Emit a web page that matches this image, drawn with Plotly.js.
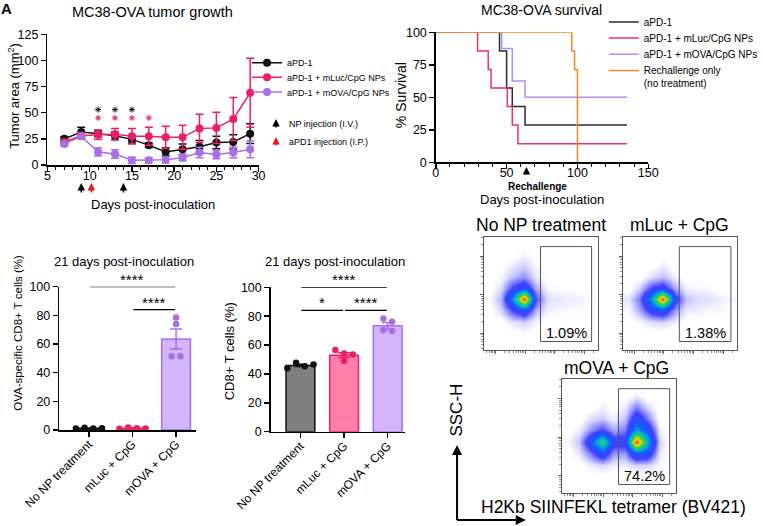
<!DOCTYPE html>
<html>
<head>
<meta charset="utf-8">
<script src="https://cdn.plot.ly/plotly-3.0.1.min.js"></script>
<style>
  html, body { margin: 0; padding: 0; background: #fff; }
  #plot { width: 763px; height: 526px; }
</style>
</head>
<body>
<div id="plot"></div>
<script>
// tumor growth, mean and SEM
let days = [7, 9, 11, 13, 15, 17, 19, 21, 23, 25, 27, 29];
let pd1Area = [25, 31.5, 30, 28, 24.5, 19, 12.5, 15, 17.5, 21.5, 22, 30];
let pd1Sem = [2, 4.5, 3, 3.5, 3.5, 2, 4, 5, 6, 6, 7, 9.5];
let mlucArea = [22, 28, 29, 29.5, 27.5, 27.5, 26.5, 26.5, 35, 35.5, 44, 69];
let mlucSem = [2, 3, 4.5, 5.5, 7.5, 8.5, 10.5, 11.5, 13.5, 15, 20.5, 33];
let movaArea = [20, 27.5, 12.5, 10.5, 4.5, 4.5, 5, 7, 12, 10, 12, 15];
let movaSem = [2, 2, 4, 4, 3, 2.5, 3, 3, 5, 4, 5, 8];
let starDaysPd1 = [11, 13, 15];
let starLevelPd1 = [53, 53, 53];
let starDaysMluc = [11, 13, 15, 17];
let starLevelMluc = [45, 45, 45, 45];
let npInjectionDays = [9, 14];
let pd1InjectionDays = [10.2];

// survival (Kaplan-Meier steps)
let survPd1Days = [0, 45, 50, 54, 63, 135];
let survPd1 = [100, 85.7, 57.1, 42.9, 28.6, 28.6];
let survMlucDays = [0, 29.5, 37, 39, 50.5, 54, 58, 135];
let survMluc = [100, 85.7, 71.4, 57.1, 42.9, 28.6, 14.3, 14.3];
let survMovaDays = [0, 46.5, 54, 63, 135];
let survMova = [100, 87.5, 62.5, 50, 50];
let survRechDays = [0, 96, 98, 100];
let survRech = [100, 85.7, 71.4, 0];
let rechallengeDay = 64;

// day 21 bar charts
let groups = ['No NP treatment', 'mLuc + CpG', 'mOVA + CpG'];
let ovaMean = [1.2, 1.3, 63.5];
let ovaSem = [0.1, 0.3, 7];
let ovaNoNp = [1.0, 1.5, 1.1, 1.2];
let ovaMluc = [0.8, 1.8, 1.2, 1.0];
let ovaMova = [78.5, 74, 51.5, 51.5];
let cd8Mean = [45.9, 53.0, 73.3];
let cd8Sem = [0.8, 1.6, 2.3];
let cd8NoNp = [44, 47.7, 45.4, 46.6];
let cd8Mluc = [56.5, 54.2, 48.9, 53.5];
let cd8Mova = [78.4, 76.1, 70.4, 69.7];

// flow plots: coarse density grid (rows bottom to top)
let flowGrid = [5, 15, 25, 35, 45, 55, 65, 75, 85, 95];
let flowNoNp = [
  [0, 0, 0, 0, 0, 0, 0, 0, 0, 0],
  [0, 0, 0, 0.2, 0, 0, 0, 0, 0, 0],
  [0, 0, 0.4, 0.6, 0.2, 0, 0, 0, 0, 0],
  [0, 0.6, 2, 3, 1, 0.3, 0.2, 0.2, 0.1, 0],
  [0.2, 1, 4, 10, 2, 0.5, 0.4, 0.3, 0.3, 0.1],
  [0, 0.5, 2, 3, 1, 0.2, 0.1, 0.1, 0, 0],
  [0, 0.2, 0.8, 1.2, 0.4, 0, 0, 0, 0, 0],
  [0, 0, 0.3, 0.6, 0.2, 0, 0, 0, 0, 0],
  [0, 0, 0, 0.2, 0, 0, 0, 0, 0, 0],
  [0, 0, 0, 0, 0, 0, 0, 0, 0, 0]
];
let flowMluc = [
  [0, 0, 0, 0, 0, 0, 0, 0, 0, 0],
  [0, 0, 0, 0, 0, 0, 0, 0, 0, 0],
  [0, 0.2, 0.5, 0.6, 0.3, 0, 0, 0, 0, 0],
  [0.2, 1, 2.5, 3, 1.2, 0.4, 0.3, 0.2, 0.2, 0],
  [0.4, 1.5, 4.5, 10, 2.5, 0.8, 0.5, 0.5, 0.3, 0.2],
  [0, 0.6, 2, 2.5, 1, 0.3, 0.2, 0.2, 0, 0],
  [0, 0, 0.5, 0.8, 0.3, 0, 0, 0, 0, 0],
  [0, 0, 0, 0.3, 0, 0, 0, 0, 0, 0],
  [0, 0, 0, 0, 0, 0, 0, 0, 0, 0],
  [0, 0, 0, 0, 0, 0, 0, 0, 0, 0]
];
let flowMova = [
  [0, 0, 0, 0, 0, 0, 0, 0, 0, 0],
  [0, 0, 0, 0, 0, 0, 0, 0, 0, 0],
  [0, 0, 0.3, 0.6, 0.3, 0.3, 0.6, 0.6, 0.2, 0],
  [0, 0.4, 1.5, 3, 1.2, 1.2, 3.5, 3, 0.4, 0],
  [0.2, 0.8, 3, 6.5, 2.5, 2.5, 10, 5, 0.6, 0],
  [0, 0.3, 1.2, 2, 1, 1.5, 4.5, 3, 0.3, 0],
  [0, 0, 0.5, 0.7, 0.3, 0.8, 3, 1.5, 0, 0],
  [0, 0, 0, 0.3, 0, 0.4, 1.5, 0.6, 0, 0],
  [0, 0, 0, 0, 0, 0, 0.3, 0, 0, 0],
  [0, 0, 0, 0, 0, 0, 0, 0, 0, 0]
];
let gateLabels = ['1.09%', '1.38%', '74.2%'];

// ---------------------------------------------------------------
const W = 763, H = 526;
const px = v => v / W;
const py = v => 1 - v / H;
const FONT = 'Liberation Sans, Arial, Helvetica, sans-serif';

const BLACK = '#111111';
const PINK = '#ec1f66';
const PURPLE = '#a66fe6';
const ORANGE = '#f08a24';

function growthTrace(y, err, color, name, legend) {
  return {
    x: days, y: y, name: name, type: 'scatter', mode: 'lines+markers',
    line: {color: color, width: 1.5},
    marker: {color: color, size: 8},
    error_y: {type: 'data', array: err, color: color, thickness: 1.5, width: 4},
    legend: legend, xaxis: 'x', yaxis: 'y', cliponaxis: false
  };
}

function starTrace(x, y, color) {
  return {
    x: x, y: y, type: 'scatter', mode: 'markers', showlegend: false,
    marker: {symbol: 'asterisk-open', size: 5, color: color, line: {color: color, width: 1}},
    xaxis: 'x', yaxis: 'y', hoverinfo: 'skip'
  };
}

function survTrace(x, y, color, name, legend) {
  return {
    x: x, y: y, name: name, type: 'scatter', mode: 'lines',
    line: {color: color, width: 1.5, shape: 'hv'},
    legend: legend, xaxis: 'x2', yaxis: 'y2', cliponaxis: false
  };
}

// bars with dots; points with close values share a row and spread sideways
function swarmX(center, values) {
  let order = values.map((v, i) => i).sort((a, b) => values[a] - values[b]);
  let rows = [];
  order.forEach(i => {
    let last = rows[rows.length - 1];
    if (last && values[i] - values[last[0]] < 4.2) last.push(i);
    else rows.push([i]);
  });
  let xs = new Array(values.length);
  rows.forEach(r => {
    r.sort((a, b) => a - b);
    r.forEach((i, k) => { xs[i] = center + (k - (r.length - 1) / 2) * 0.2; });
  });
  return xs;
}

function barTraces(ax, ay, means, sems, dotSets, fills, lines) {
  let out = [];
  means.forEach((m, i) => {
    out.push({
      x: [i], y: [m], type: 'bar', width: 0.66, showlegend: false,
      marker: {color: fills[i], line: {color: lines[i], width: 1.5}},
      error_y: {type: 'data', array: [sems[i]], color: lines[i], thickness: 1.5, width: 6},
      xaxis: ax, yaxis: ay, hoverinfo: 'skip'
    });
  });
  dotSets.forEach((vals, i) => {
    out.push({
      x: swarmX(i, vals), y: vals, type: 'scatter', mode: 'markers', showlegend: false,
      marker: {color: lines[i], size: 6.5},
      xaxis: ax, yaxis: ay, cliponaxis: false, hoverinfo: 'skip'
    });
  });
  return out;
}

const flowScale = [
  [0, 'rgba(255,255,255,0)'], [0.03, 'rgba(110,110,255,0.12)'],
  [0.1, 'rgba(60,60,255,0.45)'], [0.2, 'rgba(30,30,255,0.85)'],
  [0.35, '#1060ff'], [0.5, '#00bcd0'], [0.64, '#30cf45'],
  [0.8, '#e2e400'], [0.9, '#ff9000'], [1, '#ff1000']
];

function flowTrace(z, n) {
  return {
    x: flowGrid, y: flowGrid, z: z, type: 'heatmap', zsmooth: 'best',
    colorscale: flowScale, zmin: 0, zmax: 10, showscale: false,
    xaxis: 'x' + n, yaxis: 'y' + n, hoverinfo: 'skip'
  };
}

let data = [
  growthTrace(pd1Area, pd1Sem, BLACK, 'aPD-1', 'legend'),
  growthTrace(mlucArea, mlucSem, PINK, 'aPD-1 + mLuc/CpG NPs', 'legend2'),
  growthTrace(movaArea, movaSem, PURPLE, 'aPD-1 + mOVA/CpG NPs', 'legend3'),
  starTrace(starDaysPd1, starLevelPd1, BLACK),
  starTrace(starDaysMluc, starLevelMluc, PINK),
  survTrace(survPd1Days, survPd1, '#2a2a2a', 'aPD-1', 'legend4'),
  survTrace(survMlucDays, survMluc, '#e8336a', 'aPD-1 + mLuc/CpG NPs', 'legend5'),
  survTrace(survMovaDays, survMova, '#b58cf2', 'aPD-1 + mOVA/CpG NPs', 'legend6'),
  survTrace(survRechDays, survRech, ORANGE, 'Rechallenge only<br>(no treatment)', 'legend7')
];
data = data.concat(barTraces('x3', 'y3', ovaMean, ovaSem, [ovaNoNp, ovaMluc, ovaMova],
  ['#7f7f7f', '#ff7fa9', '#d4b4fa'], [BLACK, PINK, PURPLE]));
data = data.concat(barTraces('x4', 'y4', cd8Mean, cd8Sem, [cd8NoNp, cd8Mluc, cd8Mova],
  ['#7f7f7f', '#ff7fa9', '#d4b4fa'], [BLACK, PINK, PURPLE]));
data.push(flowTrace(flowNoNp, 5), flowTrace(flowMluc, 6), flowTrace(flowMova, 7));

function axis(extra) {
  return Object.assign({
    showgrid: false, zeroline: false, showline: true,
    linecolor: '#000', linewidth: 1.5,
    ticks: 'outside', ticklen: 5, tickwidth: 1.5, tickcolor: '#000',
    tickfont: {size: 12.5, color: '#000'}, fixedrange: true
  }, extra);
}

function logTicks(start, decade, count) {
  let out = [];
  for (let d = 0; d < count; d++) {
    for (let k = 2; k <= 9; k++) out.push(start + d * decade + decade * Math.log10(k));
  }
  return out;
}

function flowAxis(domain, anchor, major, decade) {
  return {
    domain: domain, anchor: anchor, range: [0, 100], fixedrange: true,
    showgrid: false, zeroline: false, showline: true, mirror: true,
    linecolor: '#555', linewidth: 1, showticklabels: false,
    ticks: 'outside', ticklen: 3, tickwidth: 1, tickcolor: '#666',
    tickmode: 'array', tickvals: major,
    minor: {tickmode: 'array', tickvals: logTicks(major[0] - decade, decade, major.length + 1).filter(v => v > 0 && v < 100),
            ticks: 'outside', ticklen: 2, tickwidth: 0.8, tickcolor: '#777', showgrid: false}
  };
}

const flowXTicks = [10, 36, 62, 88];
const flowYTicks = [15, 49, 83];

let layout = {
  width: W, height: H,
  margin: {l: 0, r: 0, t: 0, b: 0},
  paper_bgcolor: '#fff', plot_bgcolor: 'rgba(0,0,0,0)',
  font: {family: FONT, color: '#000'},
  showlegend: true,
  xaxis: axis({domain: [px(48), px(261.7)], anchor: 'y', range: [5, 30], tick0: 5, dtick: 5,
    ticklabelstandoff: -7,
    minor: {dtick: 1, tick0: 5, ticks: 'outside', ticklen: 3, tickwidth: 1, tickcolor: '#000', showgrid: false}}),
  yaxis: axis({domain: [py(165), py(34.3)], anchor: 'x', range: [0, 125], dtick: 25}),
  xaxis2: axis({domain: [px(441), px(656)], anchor: 'y2', range: [0, 150], dtick: 50,
    ticklabelstandoff: -7,
    minor: {dtick: 10, ticks: 'outside', ticklen: 3, tickwidth: 1, tickcolor: '#000', showgrid: false}}),
  yaxis2: axis({domain: [py(162.3), py(32.3)], anchor: 'x2', range: [0, 100], dtick: 25}),
  xaxis3: axis({domain: [px(60), px(198)], anchor: 'y3', range: [-0.68, 2.45], ticklabelstandoff: -4,
    tickmode: 'array', tickvals: [0, 1, 2], ticktext: groups, tickangle: -45, tickfont: {size: 12, color: '#000'}}),
  yaxis3: axis({domain: [py(430), py(286.7)], anchor: 'x3', range: [0, 100], dtick: 20}),
  xaxis4: axis({domain: [px(274), px(410)], anchor: 'y4', range: [-0.68, 2.4], ticklabelstandoff: -4,
    tickmode: 'array', tickvals: [0, 1, 2], ticktext: groups, tickangle: -45, tickfont: {size: 12, color: '#000'}}),
  yaxis4: axis({domain: [py(431.7), py(287.3)], anchor: 'x4', range: [0, 100], dtick: 20}),
  xaxis5: flowAxis([px(490), px(605)], 'y5', flowXTicks, 26),
  yaxis5: flowAxis([py(350), py(237)], 'x5', flowYTicks, 34),
  xaxis6: flowAxis([px(630), px(746)], 'y6', flowXTicks, 26),
  yaxis6: flowAxis([py(350), py(237)], 'x6', flowYTicks, 34),
  xaxis7: flowAxis([px(569), px(684)], 'y7', flowXTicks, 26),
  yaxis7: flowAxis([py(493), py(379)], 'x7', flowYTicks, 34),
  bargap: 0,
  shapes: [],
  annotations: []
};

// one legend per entry so each row sits where the original puts it
function legendAt(xLeft, yMid, size, valign) {
  return {x: px(xLeft), y: py(yMid), xanchor: 'left', yanchor: 'middle',
    bgcolor: 'rgba(0,0,0,0)', borderwidth: 0, itemwidth: 30, valign: valign || 'middle',
    font: {family: FONT, size: size, color: '#000'}};
}
layout.legend = legendAt(250, 62.7, 9);
layout.legend2 = legendAt(250, 77.3, 9);
layout.legend3 = legendAt(250, 92, 9);
layout.legend4 = legendAt(611, 22, 10);
layout.legend5 = legendAt(611, 38, 10);
layout.legend6 = legendAt(611, 54.3, 10);
layout.legend7 = legendAt(611, 77, 10, 'top');

let ann = layout.annotations;
let shapes = layout.shapes;

function text(t, x, y, size, extra) {
  ann.push(Object.assign({text: t, x: x, y: y, xref: 'paper', yref: 'paper',
    xanchor: 'center', yanchor: 'middle', showarrow: false,
    font: {family: FONT, size: size, color: '#000'}}, extra || {}));
}

function arrow(x, xref, yHead, color, len) {
  ann.push({text: '', x: x, xref: xref, y: py(yHead), yref: 'paper',
    showarrow: true, ax: 0, ay: len, arrowhead: 2, arrowsize: 1, arrowwidth: 1.5,
    arrowcolor: color});
}

// titles
text('A', px(7), py(9), 15, {font: {family: FONT, size: 15, color: '#000', weight: 'bold'}});
text('MC38-OVA tumor growth', px(154), py(12), 14.5);
text('MC38-OVA survival', px(548), py(10), 14);
text('21 days post-inoculation', px(125), py(262), 13);
text('21 days post-inoculation', px(339), py(262), 13);
text('No NP treatment', px(547), py(225), 17.5);
text('mLuc + CpG', px(688), py(225), 17.5);
text('mOVA + CpG', px(624), py(368), 17.5);

// axis titles
text('Tumor area (mm<sup>2</sup>)', px(14), py(96), 13, {textangle: -90});
text('Days post-inoculation', px(155), py(204), 13);
text('% Survival', px(406), py(95), 14, {textangle: -90});
text('Days post-inoculation', px(548), py(199), 13);
text('OVA-specific CD8+ T cells (%)', px(18), py(333), 11.5, {textangle: -90});
text('CD8+ T cells (%)', px(232), py(351), 13, {textangle: -90});
text('SSC-H', px(461), py(410), 17, {textangle: -90});
text('H2Kb SIINFEKL tetramer (BV421)', px(621), py(507), 17.5);

// injection arrows under the growth axis, plus their key
npInjectionDays.forEach(d => arrow(d, 'x', 183, '#000', 11));
pd1InjectionDays.forEach(d => arrow(d, 'x', 183, '#e8141e', 11));
arrow(px(279.3), 'paper', 119, '#000', 10);
arrow(px(279.3), 'paper', 137, '#e8141e', 10);
text('NP injection (I.V.)', px(290), py(124.3), 9, {xanchor: 'left'});
text('aPD1 injection (I.P.)', px(290), py(142), 9, {xanchor: 'left'});

// rechallenge marker
arrow(rechallengeDay, 'x2', 167, '#000', 9);
text('Rechallenge', px(544), py(186), 10, {font: {family: FONT, size: 10, color: '#000', weight: 'bold'}});

// comparison brackets
function bracket(ax, ay, a, b, h, label) {
  shapes.push({type: 'line', xref: ax, yref: ay, x0: a + 0.02, x1: b - 0.02, y0: h, y1: h,
    line: {color: '#000', width: 1.2}});
  ann.push({text: label, x: (a + b) / 2, y: h, xref: ax, yref: ay, showarrow: false,
    yanchor: 'bottom', yshift: -3, font: {family: FONT, size: 15, color: '#000'}});
}
bracket('x3', 'y3', 0, 2, 100, '****');
bracket('x3', 'y3', 1, 2, 84, '****');
bracket('x4', 'y4', 0, 2, 100, '****');
bracket('x4', 'y4', 0, 1, 84, '*');
bracket('x4', 'y4', 1, 2, 84, '****');

// flow gates and percentages
[5, 6, 7].forEach((n, i) => {
  shapes.push({type: 'rect', xref: 'x' + n, yref: 'y' + n, x0: 49.5, x1: 94.5, y0: 7.5, y1: 91.5,
    line: {color: '#555', width: 1}});
  ann.push({text: gateLabels[i], x: 72, y: 15, xref: 'x' + n, yref: 'y' + n, showarrow: false,
    font: {family: FONT, size: 14.5, color: '#000'}});
});

// axis arrows next to the flow plots
shapes.push({type: 'line', xref: 'paper', yref: 'paper', x0: px(462.5), x1: px(462.5), y0: py(520), y1: py(452),
  line: {color: '#000', width: 2}});
shapes.push({type: 'line', xref: 'paper', yref: 'paper', x0: px(462.5), x1: px(524), y0: py(520), y1: py(520),
  line: {color: '#000', width: 2}});
ann.push({text: '', x: px(462.5), y: py(445), xref: 'paper', yref: 'paper', showarrow: true,
  ax: 0, ay: 8, arrowhead: 2, arrowsize: 1, arrowwidth: 2, arrowcolor: '#000'});
ann.push({text: '', x: px(532), y: py(520), xref: 'paper', yref: 'paper', showarrow: true,
  ax: -8, ay: 0, arrowhead: 2, arrowsize: 1, arrowwidth: 2, arrowcolor: '#000'});

Plotly.newPlot('plot', data, layout, {displayModeBar: false, staticPlot: true});
</script>
</body>
</html>
